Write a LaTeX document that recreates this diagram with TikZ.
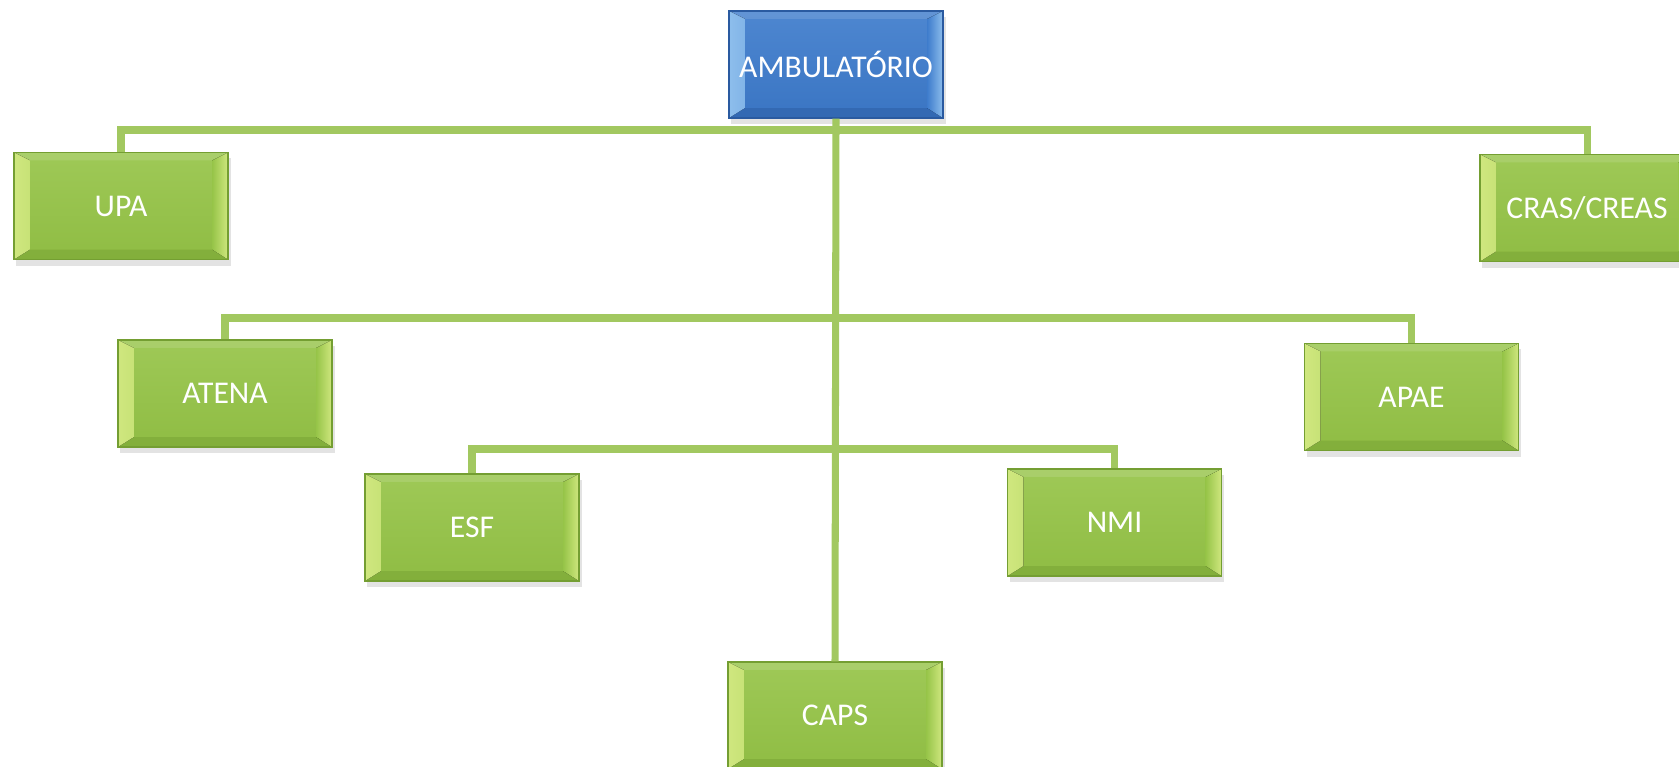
\documentclass[tikz,border=0pt]{standalone}
\usepackage{fontspec}
\setmainfont{Carlito}
\usetikzlibrary{calc,shadows}
\definecolor{linkgreen}{RGB}{162,200,96}
\definecolor{boxgreen}{RGB}{150,196,72}
\definecolor{boxgreendark}{RGB}{116,158,50}
\definecolor{bevgreen}{RGB}{232,246,150}
\definecolor{boxblue}{RGB}{62,124,204}
\definecolor{boxbluedark}{RGB}{42,90,160}
\definecolor{bevblue}{RGB}{175,218,250}
\tikzset{
  unit/.style={draw=box#1dark, line width=0.4pt,
    top color=box#1!92!white, bottom color=box#1!80!box#1dark,
    minimum width=2.14cm, minimum height=1.07cm, inner sep=0pt,
    text=white, font=\fontsize{9}{10}\selectfont,
    drop shadow={shadow xshift=0.25mm, shadow yshift=-0.6mm, opacity=0.22},
    path picture={
      \coordinate (pa) at (path picture bounding box.north west);
      \coordinate (pb) at (path picture bounding box.south east);
      \fill[white, opacity=0.12] (pa) -- (pb|-pa) -- ($(pb|-pa)+(-16,8)$) -- ($(pa)+(16,8)$) -- cycle;
      \fill[left color=bev#1!70!box#1, right color=bev#1!60!box#1] (pa) -- ($(pa)+(16,8)$) -- ($(pa|-pb)+(16,-10)$) -- (pa|-pb) -- cycle;
      \fill[left color=box#1, right color=bev#1!70!box#1] (pb|-pa) -- ($(pb|-pa)+(-16,8)$) -- ($(pb)+(-16,-10)$) -- (pb) -- cycle;
      \fill[box#1dark, opacity=0.45] (pa|-pb) -- ($(pa|-pb)+(16,-10)$) -- ($(pb)+(-16,-10)$) -- (pb) -- cycle;
    }},
  link/.style={draw=linkgreen, line width=2pt}
}
\begin{document}
\begin{tikzpicture}[x=0.01cm, y=-0.01cm]
  \useasboundingbox (0,0) rectangle (1679,767);
  \node[unit=blue] (amb) at (836,64.5) {AMBULATÓRIO};
  \foreach \nm/\cx/\cy/\txt in {upa/121/206/UPA, cras/1587/208/{CRAS/CREAS},
      atena/225/393.5/ATENA, apae/1411.5/397/APAE,
      esf/472/527.5/ESF, nmi/1114.5/522.5/NMI, caps/835/715.5/CAPS} {
    \node[unit=green] (\nm) at (\cx,\cy) {\txt};
  }
  \draw[link] (amb.south) -- (caps.north);
  \foreach \a/\b/\y in {upa/cras/130, atena/apae/318, esf/nmi/449} {
    \coordinate (lv\a) at (836,\y);
    \draw[link] (\a.north) |- (lv\a) -| (\b.north);
  }
\end{tikzpicture}
\end{document}
